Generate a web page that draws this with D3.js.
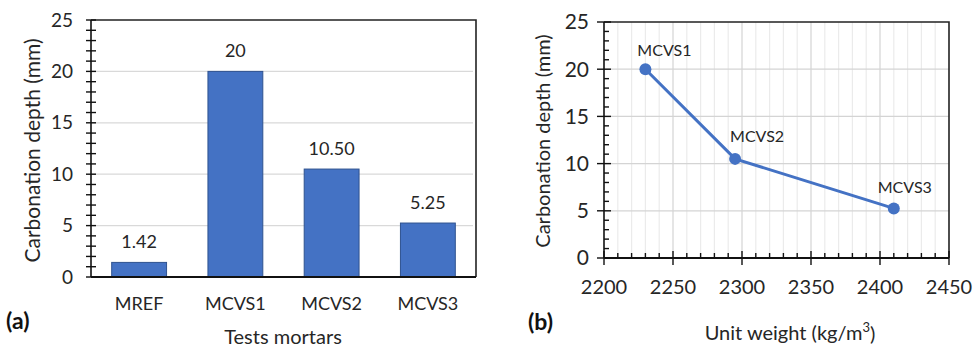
<!DOCTYPE html>
<html>
<head>
<meta charset="utf-8">
<script src="https://cdn.jsdelivr.net/npm/d3@7"></script>
<style>
  html, body { margin: 0; padding: 0; background: #fff; }
  svg { display: block; font-family: Lato, "Open Sans", sans-serif; }
</style>
</head>
<body>
<svg id="fig" width="975" height="348"></svg>
<script>
// Panel (a): carbonation depth per mortar
const mortars = ["MREF", "MCVS1", "MCVS2", "MCVS3"];
const depthByMortar = [1.42, 20, 10.5, 5.25];
const depthLabels = ["1.42", "20", "10.50", "5.25"];

// Panel (b): carbonation depth vs unit weight
const weightMortars = ["MCVS1", "MCVS2", "MCVS3"];
const unitWeights = [2230, 2295, 2410];
const weightDepths = [20, 10.5, 5.25];

const yTicks = [0, 5, 10, 15, 20, 25];
const xTicksB = [2200, 2250, 2300, 2350, 2400, 2450];

const blue = "#4472C4";
const barEdge = "#2F528F";
const grid = "#D9D9D9";
const ink = "#262626";

const svg = d3.select("#fig");

// ---------- (a) bar chart ----------
{
  const L = 91, R = 476, T = 20, B = 277;
  const g = svg.append("g");
  const x = d3.scaleBand().domain(mortars).range([L, R]).paddingInner(0.43).paddingOuter(0.215);
  const y = d3.scaleLinear().domain([0, 25]).range([B, T]);

  // gridlines
  g.selectAll("line.grid").data(yTicks.filter(v => v > 0 && v < 25)).join("line")
    .attr("x1", L).attr("x2", R - 3).attr("y1", d => y(d)).attr("y2", d => y(d))
    .attr("stroke", grid).attr("stroke-width", 1.2);

  // bars
  g.selectAll("rect.bar").data(mortars).join("rect")
    .attr("x", d => x(d)).attr("width", x.bandwidth())
    .attr("y", (d, i) => y(depthByMortar[i]))
    .attr("height", (d, i) => y(0) - y(depthByMortar[i]))
    .attr("fill", blue).attr("stroke", barEdge).attr("stroke-width", 1);

  // value labels
  g.selectAll("text.val").data(mortars).join("text")
    .attr("x", d => x(d) + x.bandwidth() / 2)
    .attr("y", (d, i) => y(depthByMortar[i]) - 14)
    .attr("text-anchor", "middle").attr("font-size", 18).attr("fill", ink)
    .text((d, i) => depthLabels[i]);

  // frame (top, right)
  g.append("path").attr("d", `M${L},${T}H${R}V${B}`).attr("fill", "none")
    .attr("stroke", "#222").attr("stroke-width", 1.6);

  // y axis with crossing ticks
  const minor = d3.range(0, 25.01, 1);
  g.selectAll("line.ytick").data(minor).join("line")
    .attr("x1", L - 5).attr("x2", L + 5)
    .attr("y1", d => y(d)).attr("y2", d => y(d))
    .attr("stroke", "#111").attr("stroke-width", 1.4);
  g.append("line").attr("x1", L).attr("x2", L).attr("y1", T).attr("y2", B)
    .attr("stroke", "#111").attr("stroke-width", 1.6);
  g.append("line").attr("x1", L).attr("x2", R).attr("y1", B).attr("y2", B)
    .attr("stroke", "#111").attr("stroke-width", 2);

  g.selectAll("text.ylab").data(yTicks).join("text")
    .attr("x", L - 18).attr("y", d => y(d)).attr("dy", "0.35em")
    .attr("text-anchor", "end").attr("font-size", 19).attr("fill", ink)
    .text(d => d);

  g.selectAll("text.xlab").data(mortars).join("text")
    .attr("x", d => x(d) + x.bandwidth() / 2).attr("y", 304).attr("dy", "0.35em")
    .attr("text-anchor", "middle").attr("font-size", 18).attr("fill", ink)
    .text(d => d);

  g.append("text").attr("transform", `translate(33,${(T + B) / 2 + 2}) rotate(-90)`)
    .attr("dy", "0.35em").attr("text-anchor", "middle").attr("font-size", 21).attr("fill", ink)
    .text("Carbonation depth (mm)");
  g.append("text").attr("x", 283).attr("y", 337).attr("dy", "0.35em")
    .attr("text-anchor", "middle").attr("font-size", 20).attr("fill", ink)
    .text("Tests mortars");
  g.append("text").attr("x", 6).attr("y", 321).attr("dy", "0.35em")
    .attr("font-size", 23).attr("font-weight", "bold").attr("fill", "#111")
    .text("(a)");
}

// ---------- (b) line chart ----------
{
  const L = 604, R = 949, T = 22, B = 258;
  const g = svg.append("g");
  const x = d3.scaleLinear().domain([2200, 2450]).range([L, R]);
  const y = d3.scaleLinear().domain([0, 25]).range([B, T]);

  const xMinor = d3.range(2200, 2450.1, 10);
  // vertical gridlines (minor lighter, major darker)
  g.selectAll("line.vg").data(xMinor.filter(v => v > 2200 && v < 2450)).join("line")
    .attr("x1", d => x(d)).attr("x2", d => x(d)).attr("y1", T).attr("y2", B)
    .attr("stroke", d => d % 50 === 0 ? "#D4D4D4" : "#EBEBEB").attr("stroke-width", 1.2);
  // horizontal gridlines
  g.selectAll("line.hg").data(yTicks.filter(v => v > 0 && v < 25)).join("line")
    .attr("x1", L).attr("x2", R).attr("y1", d => y(d)).attr("y2", d => y(d))
    .attr("stroke", "#D4D4D4").attr("stroke-width", 1.2);

  // frame
  g.append("path").attr("d", `M${L},${T}H${R}V${B}`).attr("fill", "none")
    .attr("stroke", "#222").attr("stroke-width", 1.6);

  // y ticks: minor inside, major crossing
  g.selectAll("line.ym").data(d3.range(0, 25.01, 1)).join("line")
    .attr("x1", d => d % 5 === 0 ? L - 7 : L).attr("x2", d => d % 5 === 0 ? L + 7 : L + 5)
    .attr("y1", d => y(d)).attr("y2", d => y(d))
    .attr("stroke", "#111").attr("stroke-width", 1.4);
  // x ticks: minor inside, major crossing
  g.selectAll("line.xm").data(xMinor).join("line")
    .attr("x1", d => x(d)).attr("x2", d => x(d))
    .attr("y1", d => d % 50 === 0 ? B - 7 : B - 5).attr("y2", d => d % 50 === 0 ? B + 7 : B)
    .attr("stroke", "#111").attr("stroke-width", 1.4);
  g.append("line").attr("x1", L).attr("x2", L).attr("y1", T).attr("y2", B)
    .attr("stroke", "#111").attr("stroke-width", 1.6);
  g.append("line").attr("x1", L).attr("x2", R).attr("y1", B).attr("y2", B)
    .attr("stroke", "#111").attr("stroke-width", 2);

  g.selectAll("text.ylab").data(yTicks).join("text")
    .attr("x", L - 15).attr("y", d => y(d)).attr("dy", "0.35em")
    .attr("text-anchor", "end").attr("font-size", 21).attr("fill", ink)
    .text(d => d);
  g.selectAll("text.xlab").data(xTicksB).join("text")
    .attr("x", d => x(d)).attr("y", 287).attr("dy", "0.35em")
    .attr("text-anchor", "middle").attr("font-size", 20).attr("fill", ink)
    .text(d => d);

  // series
  const pts = unitWeights.map((w, i) => [w, weightDepths[i]]);
  g.append("path").datum(pts)
    .attr("d", d3.line().x(d => x(d[0])).y(d => y(d[1])))
    .attr("fill", "none").attr("stroke", blue).attr("stroke-width", 3);
  g.selectAll("circle.pt").data(pts).join("circle")
    .attr("cx", d => x(d[0])).attr("cy", d => y(d[1])).attr("r", 6)
    .attr("fill", blue);

  const labelOffsets = [[19, -19], [22, -22], [11, -21]];
  g.selectAll("text.pl").data(pts).join("text")
    .attr("x", (d, i) => x(d[0]) + labelOffsets[i][0])
    .attr("y", (d, i) => y(d[1]) + labelOffsets[i][1]).attr("dy", "0.35em")
    .attr("text-anchor", "middle").attr("font-size", 16).attr("fill", ink)
    .text((d, i) => weightMortars[i]);

  g.append("text").attr("transform", `translate(543,${(T + B) / 2 + 1}) rotate(-90)`)
    .attr("dy", "0.35em").attr("text-anchor", "middle").attr("font-size", 20).attr("fill", ink)
    .text("Carbonation depth (mm)");
  const xt = g.append("text").attr("x", 790).attr("y", 333).attr("dy", "0.35em")
    .attr("text-anchor", "middle").attr("font-size", 20).attr("fill", ink);
  xt.append("tspan").text("Unit weight (kg/m");
  xt.append("tspan").attr("font-size", 13).attr("dy", "-0.6em").text("3");
  xt.append("tspan").attr("dy", "0.45em").text(")");
  g.append("text").attr("x", 528).attr("y", 322).attr("dy", "0.35em")
    .attr("font-size", 23).attr("font-weight", "bold").attr("fill", "#111")
    .text("(b)");
}
</script>
</body>
</html>
